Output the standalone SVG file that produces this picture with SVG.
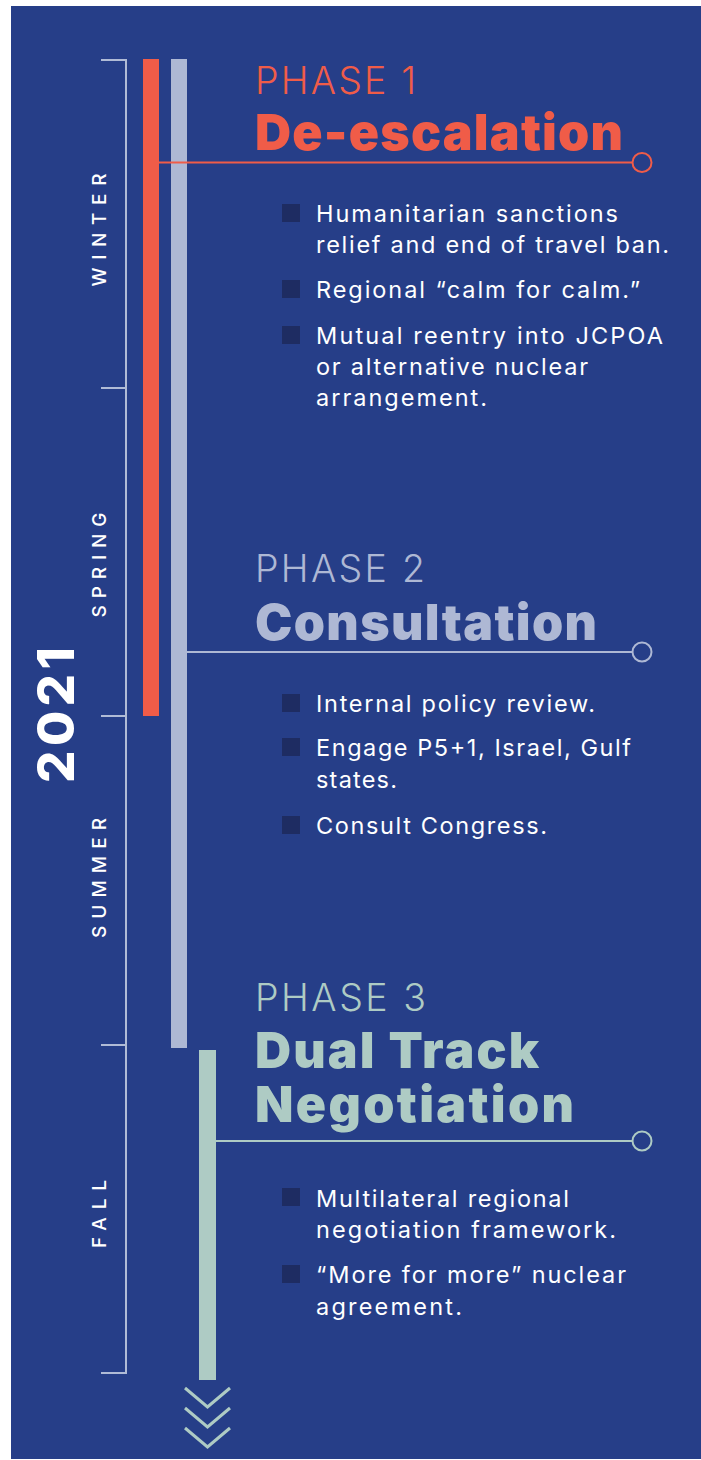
<svg xmlns="http://www.w3.org/2000/svg" width="701" height="1460" viewBox="0 0 701 1460">
  <style>
    .body { font-family: Inter, "Open Sans", "Liberation Sans", sans-serif; font-size: 23.5px; fill: #ffffff; font-weight: 400; }
    .phase { font-family: Inter, "Open Sans", "Liberation Sans", sans-serif; font-size: 37.5px; font-weight: 300; }
    .title { font-family: Inter, "Open Sans", "Liberation Sans", sans-serif; font-size: 50px; font-weight: 900; }
    .season { font-family: Inter, "Open Sans", "Liberation Sans", sans-serif; font-size: 19px; font-weight: 500; fill: #ffffff; }
    .year { font-family: Inter, "Open Sans", "Liberation Sans", sans-serif; font-size: 51px; font-weight: 800; fill: #ffffff; }
    .bullet { fill: #1e2c62; }
    .red { fill: #f05c48; }
    .lav { fill: #aeb8d4; }
    .grn { fill: #aecbc4; }
  </style>
  <rect x="11" y="6" width="690" height="1453" fill="#263e88"/>

  <g id="season-bracket" fill="none" stroke="#b0bbd6" stroke-width="2">
    <path d="M101 60 H126 V1373 H101"/>
    <path d="M101 388 H126 M101 716 H126 M101 1045 H126"/>
  </g>
  <g id="season-labels">
    <text class="season" text-anchor="middle" textLength="113" transform="translate(106,230) rotate(-90)">WINTER</text>
    <text class="season" text-anchor="middle" textLength="105" transform="translate(106,565) rotate(-90)">SPRING</text>
    <text class="season" text-anchor="middle" textLength="120" transform="translate(106,878) rotate(-90)">SUMMER</text>
    <text class="season" text-anchor="middle" textLength="68" transform="translate(106,1214) rotate(-90)">FALL</text>
    <text class="year" text-anchor="middle" textLength="136" transform="translate(74,715) rotate(-90)">2021</text>
  </g>

  <g id="bars">
    <rect class="lav" x="171" y="59" width="16" height="989"/>
    <rect class="red" x="143" y="59" width="16" height="657"/>
    <rect class="grn" x="199" y="1050" width="17" height="330"/>
  </g>

  <g id="connectors" fill="none" stroke-width="2">
    <line x1="159" y1="162.5" x2="632.5" y2="162.5" stroke="#f05c48"/>
    <circle cx="642" cy="162.5" r="9.5" stroke="#f05c48"/>
    <line x1="187" y1="652" x2="632.5" y2="652" stroke="#aeb8d4"/>
    <circle cx="642" cy="652" r="9.5" stroke="#aeb8d4"/>
    <line x1="216" y1="1141" x2="632.5" y2="1141" stroke="#aecbc4"/>
    <circle cx="642" cy="1141" r="9.5" stroke="#aecbc4"/>
    <g id="chevrons" stroke="#aecbc4" stroke-width="3">
      <polyline points="185,1388 207.5,1407 230,1388"/>
      <polyline points="185,1408 207.5,1427 230,1408"/>
      <polyline points="185,1428 207.5,1447 230,1428"/>
    </g>
  </g>

  <g id="phase1">
    <text class="phase red" x="255" y="94" textLength="161">PHASE 1</text>
    <text class="title red" x="255" y="150" textLength="368">De-escalation</text>
    <rect class="bullet" x="282" y="204" width="18" height="18"/>
    <text class="body" x="316" y="222" textLength="302">Humanitarian sanctions</text>
    <text class="body" x="316" y="253" textLength="353">relief and end of travel ban.</text>
    <rect class="bullet" x="282" y="280" width="18" height="18"/>
    <text class="body" x="316" y="298" textLength="324">Regional “calm for calm.”</text>
    <rect class="bullet" x="282" y="326" width="18" height="18"/>
    <text class="body" x="316" y="344" textLength="347">Mutual reentry into JCPOA</text>
    <text class="body" x="316" y="375" textLength="272">or alternative nuclear</text>
    <text class="body" x="316" y="406" textLength="171">arrangement.</text>
  </g>

  <g id="phase2">
    <text class="phase lav" x="255" y="582" textLength="170">PHASE 2</text>
    <text class="title lav" x="255" y="640" textLength="342">Consultation</text>
    <rect class="bullet" x="282" y="694" width="18" height="18"/>
    <text class="body" x="316" y="712" textLength="279">Internal policy review.</text>
    <rect class="bullet" x="282" y="738" width="18" height="18"/>
    <text class="body" x="316" y="756" textLength="315">Engage P5+1, Israel, Gulf</text>
    <text class="body" x="316" y="788" textLength="81">states.</text>
    <rect class="bullet" x="282" y="816" width="18" height="18"/>
    <text class="body" x="316" y="834" textLength="231">Consult Congress.</text>
  </g>

  <g id="phase3">
    <text class="phase grn" x="255" y="1011" textLength="171">PHASE 3</text>
    <text class="title grn" x="255" y="1068" textLength="284">Dual Track</text>
    <text class="title grn" x="255" y="1122" textLength="319">Negotiation</text>
    <rect class="bullet" x="282" y="1188" width="18" height="18"/>
    <text class="body" x="316" y="1207" textLength="253">Multilateral regional</text>
    <text class="body" x="316" y="1238" textLength="300">negotiation framework.</text>
    <rect class="bullet" x="282" y="1265" width="18" height="18"/>
    <text class="body" x="316" y="1283" textLength="310">“More for more” nuclear</text>
    <text class="body" x="316" y="1315" textLength="146">agreement.</text>
  </g>
</svg>
